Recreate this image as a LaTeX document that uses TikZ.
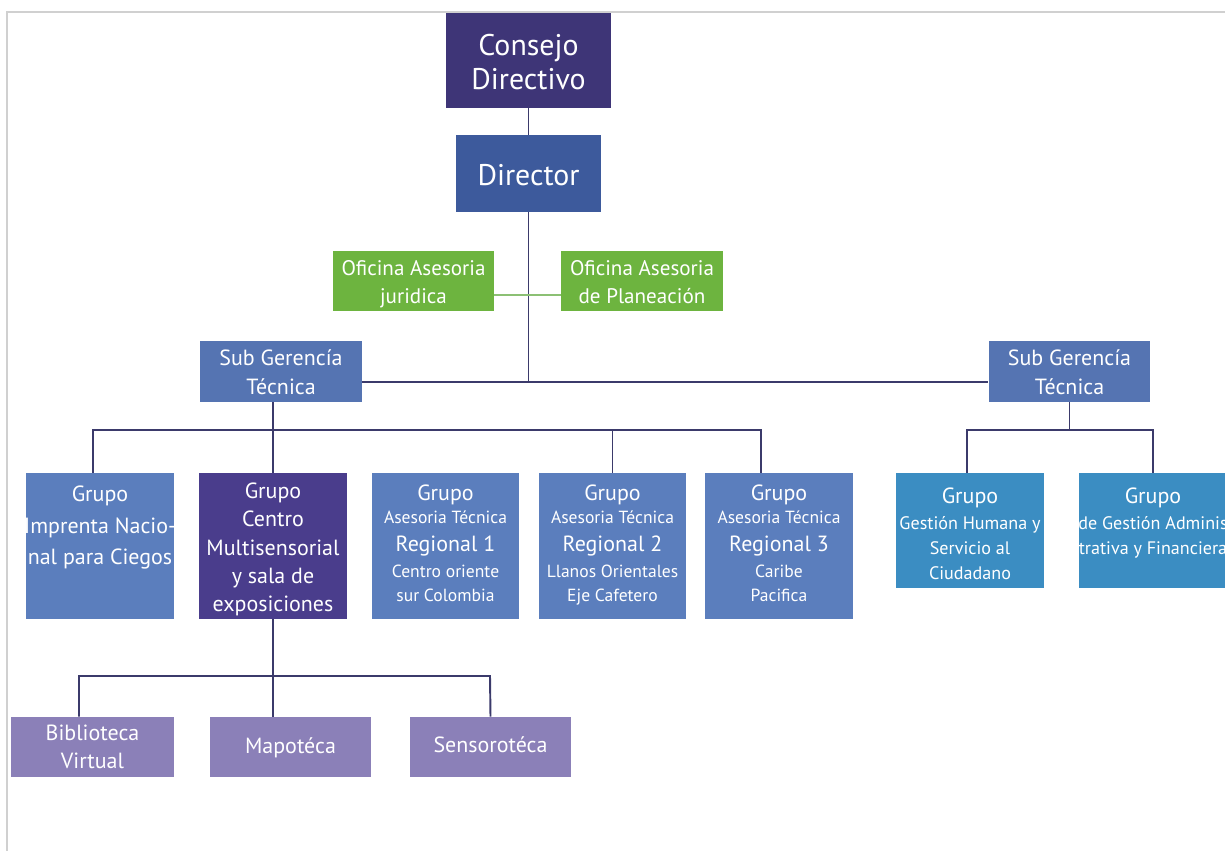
\documentclass[tikz,border=0pt]{standalone}
\usepackage{fontspec}
\setmainfont{PT Sans}
\newcommand\fz[1]{\fontsize{#1}{#1}\selectfont}
\definecolor{cCons}{HTML}{3E3577}
\definecolor{cDir}{HTML}{3D5A9C}
\definecolor{cGreen}{HTML}{6DB43F}
\definecolor{cGreenLine}{HTML}{8CC074}
\definecolor{cSub}{HTML}{5574B2}
\definecolor{cBlue}{HTML}{5B7EBD}
\definecolor{cCentro}{HTML}{4A3D8C}
\definecolor{cTeal}{HTML}{3B8DC2}
\definecolor{cLilac}{HTML}{8B80B8}
\definecolor{cLine}{HTML}{3B3A6B}
\definecolor{cFrame}{HTML}{D0D0D0}
\tikzset{
  box/.style={draw=none, inner sep=0, minimum width=#1},
  t/.style={text=white, inner sep=0, anchor=mid, yshift=-2.3pt},
  conn/.style={draw=cLine, line width=1.1pt},
  gconn/.style={draw=cGreenLine, line width=1.1pt},
}
\begin{document}
\begin{tikzpicture}[x=0.02cm, y=-0.02cm]
\useasboundingbox (0,0) rectangle (1225,851);
\clip (0,0) rectangle (1225,851);
\fill[white] (0,0) rectangle (1225,851);
\draw[cFrame, line width=1.2pt] (7,851) -- (7,12) -- (1226,12);

% boxes
\node[box=3.3cm, minimum height=1.9cm, fill=cCons] (cd) at (528.5,60.5) {};
\node[box=2.9cm, minimum height=1.54cm, fill=cDir] (dir) at (528.5,173.5) {};
\node[box=3.22cm, minimum height=1.2cm, fill=cGreen] (oj) at (413.5,281) {};
\node[box=3.24cm, minimum height=1.2cm, fill=cGreen] (op) at (642,281) {};
\node[box=3.24cm, minimum height=1.22cm, fill=cSub] (sgl) at (281,371.5) {};
\node[box=3.24cm, minimum height=1.22cm, fill=cSub] (sgr) at (1069.5,371.5) {};
\node[box=2.96cm, minimum height=2.92cm, fill=cBlue] (imp) at (100,546) {};
\node[box=2.96cm, minimum height=2.92cm, fill=cCentro] (cm) at (273,546) {};
\node[box=2.96cm, minimum height=2.92cm, fill=cBlue] (r1) at (445.5,546) {};
\node[box=2.96cm, minimum height=2.92cm, fill=cBlue] (r2) at (612.5,546) {};
\node[box=2.96cm, minimum height=2.92cm, fill=cBlue] (r3) at (779,546) {};
\node[box=2.96cm, minimum height=2.3cm, fill=cTeal] (gh) at (970,530.5) {};
\node[box=2.96cm, minimum height=2.3cm, fill=cTeal] (ga) at (1153,530.5) {};
\node[box=3.26cm, minimum height=1.2cm, fill=cLilac] (bv) at (92.5,747) {};
\node[box=3.22cm, minimum height=1.2cm, fill=cLilac] (mp) at (290.5,747) {};
\node[box=3.22cm, minimum height=1.2cm, fill=cLilac] (ss) at (490.5,747) {};

% connectors
\coordinate (hb) at (528.5,382);
\coordinate (gl) at (528.5,295);
\draw[conn] (cd.south) -- (dir.north);
\draw[conn] (dir.south) -- (hb);
\draw[conn] (sgl.east |- hb) -- (sgr.west |- hb);
\draw[gconn] (oj.east |- gl) -- (op.west |- gl);

\coordinate (lb1) at (93,430);
\coordinate (lb2) at (761,430);
\draw[conn] (cm.north |- sgl.south) -- (cm.north);
\draw[conn] (lb1 |- imp.north) -- (lb1) -- (lb2) -- (lb2 |- r3.north);
\draw[conn] (r2.north |- lb1) -- (r2.north);

\coordinate (rb1) at (967,430);
\coordinate (rb2) at (1153,430);
\draw[conn] (sgr.south) -- (sgr.south |- rb1);
\draw[conn] (rb1 |- gh.north) -- (rb1) -- (rb2) -- (ga.north);

\coordinate (bb1) at (79,676);
\coordinate (bb2) at (490,676);
\draw[conn] (cm.south) -- (cm.south |- bb1);
\draw[conn] (bb1 |- bv.north) -- (bb1) -- (bb2) -- (ss.north);
\draw[conn] (cm.south |- bb1) -- (cm.south |- mp.north);

% texts
\node[t, font=\fz{17}] (cd1) at (528.5,47) {Consejo};
\node[t, font=\fz{17}] (cd2) at (528.5,81) {Directivo};
\node[t, font=\fz{17}] (dir1) at (528.5,177) {Director};
\node[t, font=\fz{12}] (oj1) at (413.5,267) {Oficina Asesoria};
\node[t, font=\fz{12}] (oj2) at (413.5,295) {juridica};
\node[t, font=\fz{12}] (op1) at (642,267) {Oficina Asesoria};
\node[t, font=\fz{12}] (op2) at (642,295) {de Planeación};
\node[t, font=\fz{12.5}] (sgl1) at (281,357) {Sub Gerencía};
\node[t, font=\fz{12.5}] (sgl2) at (281,386) {Técnica};
\node[t, font=\fz{12.5}] (sgr1) at (1069.5,357) {Sub Gerencía};
\node[t, font=\fz{12.5}] (sgr2) at (1069.5,386) {Técnica};

\node[t, font=\fz{12.5}] (imp1) at (100,493) {Grupo};
\node[t, font=\fz{12.5}] (imp2) at (100,525) {Imprenta Nacio-};
\node[t, font=\fz{12.5}] (imp3) at (100,556) {nal para Ciegos};

\node[t, font=\fz{12.5}] (cm1) at (273,490) {Grupo};
\node[t, font=\fz{12.5}] (cm2) at (273,518) {Centro};
\node[t, font=\fz{12.5}] (cm3) at (273,547) {Multisensorial};
\node[t, font=\fz{12.5}] (cm4) at (273,575) {y sala de};
\node[t, font=\fz{12.5}] (cm5) at (273,603) {exposiciones};

\node[t, font=\fz{12.5}] (r1a) at (445.5,492) {Grupo};
\node[t, font=\fz{10}] (r1b) at (445.5,515) {Asesoria Técnica};
\node[t, font=\fz{12.5}] (r1c) at (445.5,543) {Regional 1};
\node[t, font=\fz{10}] (r1d) at (445.5,569) {Centro oriente};
\node[t, font=\fz{10}] (r1e) at (445.5,593) {sur Colombia};

\node[t, font=\fz{12.5}] (r2a) at (612.5,492) {Grupo};
\node[t, font=\fz{10}] (r2b) at (612.5,515) {Asesoria Técnica};
\node[t, font=\fz{12.5}] (r2c) at (612.5,543) {Regional 2};
\node[t, font=\fz{10}] (r2d) at (612.5,569) {Llanos Orientales};
\node[t, font=\fz{10}] (r2e) at (612.5,593) {Eje Cafetero};

\node[t, font=\fz{12.5}] (r3a) at (779,492) {Grupo};
\node[t, font=\fz{10}] (r3b) at (779,515) {Asesoria Técnica};
\node[t, font=\fz{12.5}] (r3c) at (779,543) {Regional 3};
\node[t, font=\fz{10}] (r3d) at (779,569) {Caribe};
\node[t, font=\fz{10}] (r3e) at (779,593) {Pacifica};

\node[t, font=\fz{12.5}] (gh1) at (970,495) {Grupo};
\node[t, font=\fz{10.3}] (gh2) at (970,521) {Gestión Humana y};
\node[t, font=\fz{10.3}] (gh3) at (970,546) {Servicio al};
\node[t, font=\fz{10.3}] (gh4) at (970,571) {Ciudadano};

\node[t, font=\fz{12.5}] (ga1) at (1153,495) {Grupo};
\node[t, font=\fz{10.3}] (ga2) at (1153,521) {de Gestión Adminis};
\node[t, font=\fz{10.3}] (ga3) at (1153,546) {trativa y Financiera};

\node[t, font=\fz{12.5}] (bv1) at (92.5,732) {Biblioteca};
\node[t, font=\fz{12.5}] (bv2) at (92.5,760) {Virtual};
\node[t, font=\fz{12.5}] (mp1) at (290.5,745) {Mapotéca};
\node[t, font=\fz{12.5}] (ss1) at (490.5,744) {Sensorotéca};
\end{tikzpicture}
\end{document}
